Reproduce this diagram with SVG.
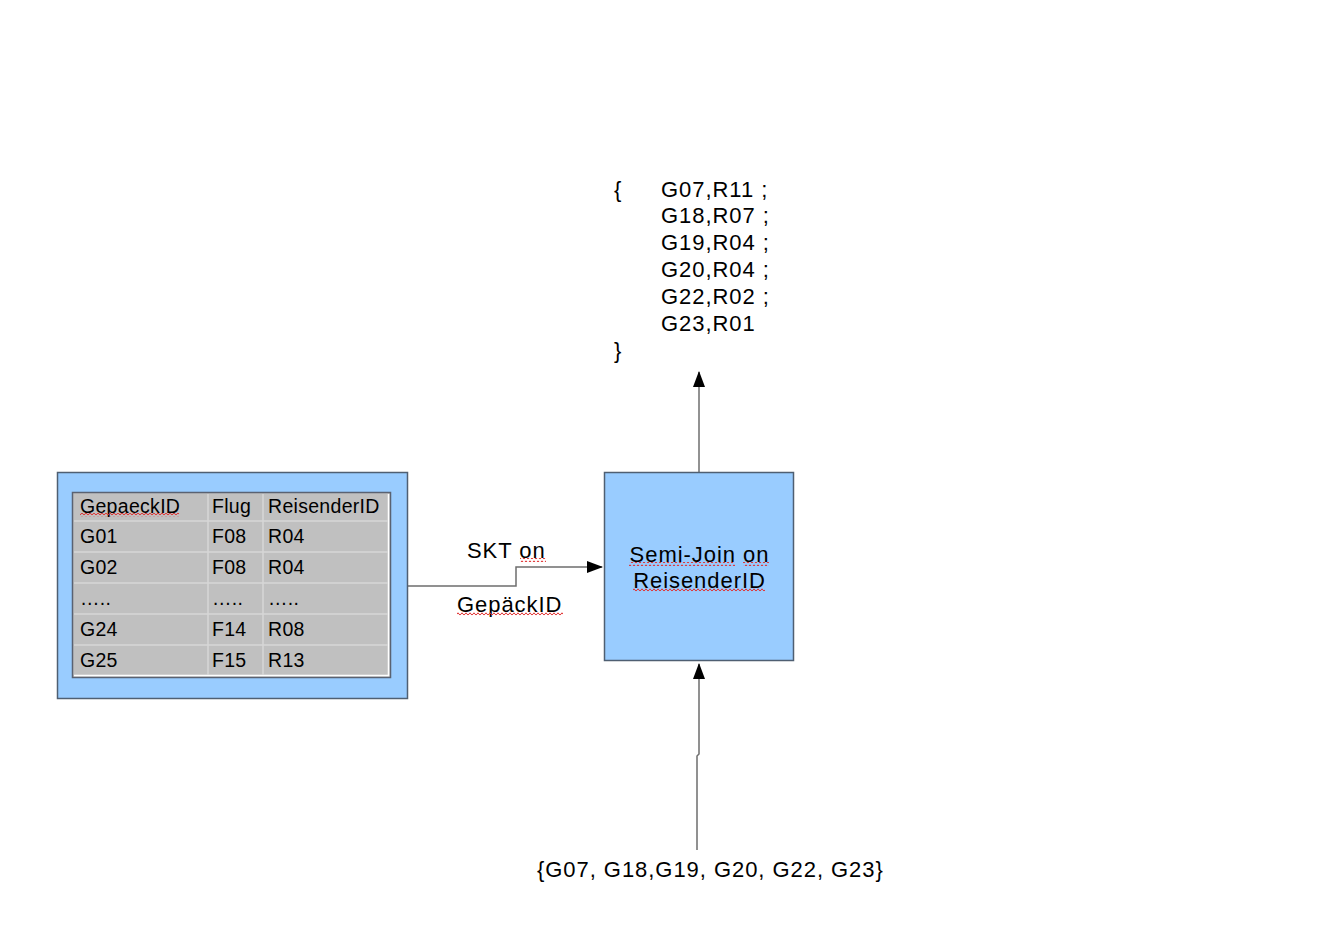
<svg xmlns="http://www.w3.org/2000/svg" width="1334" height="945" viewBox="0 0 1334 945">
<style>
text{font-family:"Liberation Sans",Arial,sans-serif;fill:#000}
.t{font-size:19.5px;letter-spacing:0.3px}
.l{font-size:22px;letter-spacing:0.95px}
.box{fill:#99ccff;stroke:#4f5f72;stroke-width:1.5}
.conn{fill:none;stroke:#6e6e6e;stroke-width:1.5}
.cell{stroke:#d6d6d6;stroke-width:1.5}
.wave{fill:url(#wave)}
</style>
<defs>
<marker id="arr" markerWidth="16" markerHeight="12" refX="15" refY="6" orient="auto" markerUnits="userSpaceOnUse">
<path d="M0,0 L16,6 L0,12 Z" fill="#000"/>
</marker>
<pattern id="wave" width="4" height="4" patternUnits="userSpaceOnUse">
<path d="M0,3.2 L2,0.8 L4,3.2" fill="none" stroke="#e03030" stroke-width="1"/>
</pattern>
</defs>
<rect width="1334" height="945" fill="#fff"/>

<g id="connectors">
<path class="conn" d="M408,586 H516 V567 H602" marker-end="url(#arr)"/>
<path class="conn" d="M699,472 V372" marker-end="url(#arr)"/>
<path class="conn" d="M697,850 V756 L699,754 V664" marker-end="url(#arr)"/>
</g>

<g id="table-node">
<rect class="box" x="57.5" y="472.5" width="350" height="226"/>
<rect x="72.5" y="492.5" width="318" height="185" fill="#c0c0c0" stroke="#5a6272" stroke-width="1.5"/>
<path d="M74,675.5 H388.5 V494" fill="none" stroke="#fff" stroke-width="1.5"/>
<path class="cell" d="M74,521 H388 M74,552 H388 M74,583 H388 M74,614 H388 M74,645 H388 M208,494 V675 M263,494 V675"/>
<text class="t" x="80" y="513">GepaeckID</text>
<text class="t" x="212" y="513">Flug</text>
<text class="t" x="268" y="513">ReisenderID</text>
<text class="t" x="80" y="543">G01</text>
<text class="t" x="212" y="543">F08</text>
<text class="t" x="268" y="543">R04</text>
<text class="t" x="80" y="574">G02</text>
<text class="t" x="212" y="574">F08</text>
<text class="t" x="268" y="574">R04</text>
<text class="t" x="80" y="605">…..</text>
<text class="t" x="212" y="605">…..</text>
<text class="t" x="268" y="605">…..</text>
<text class="t" x="80" y="636">G24</text>
<text class="t" x="212" y="636">F14</text>
<text class="t" x="268" y="636">R08</text>
<text class="t" x="80" y="667">G25</text>
<text class="t" x="212" y="667">F15</text>
<text class="t" x="268" y="667">R13</text>
<rect class="wave" x="80" y="513" width="99" height="4"/>
</g>

<g id="edge-label">
<text class="l" x="467" y="558">SKT on</text>
<text class="l" x="457" y="612">GepäckID</text>
<rect class="wave" x="520" y="558" width="26" height="4"/>
<rect class="wave" x="457" y="612" width="106" height="4"/>
</g>

<g id="semijoin-node">
<rect class="box" x="604.5" y="472.5" width="189" height="188"/>
<text class="l" x="699.5" y="562" text-anchor="middle">Semi-Join on</text>
<text class="l" x="699.5" y="588" text-anchor="middle">ReisenderID</text>
<rect class="wave" x="629" y="562" width="106" height="4"/>
<rect class="wave" x="743" y="562" width="26" height="4"/>
<rect class="wave" x="633" y="588" width="132" height="4"/>
</g>

<g id="result-node">
<text class="l" x="614" y="197">{</text>
<text class="l" x="661" y="197">G07,R11 ;</text>
<text class="l" x="661" y="223">G18,R07 ;</text>
<text class="l" x="661" y="250">G19,R04 ;</text>
<text class="l" x="661" y="277">G20,R04 ;</text>
<text class="l" x="661" y="304">G22,R02 ;</text>
<text class="l" x="661" y="331">G23,R01</text>
<text class="l" x="614" y="358">}</text>
</g>

<g id="input-node">
<text class="l" x="537" y="877">{G07, G18,G19, G20, G22, G23}</text>
</g>
</svg>
